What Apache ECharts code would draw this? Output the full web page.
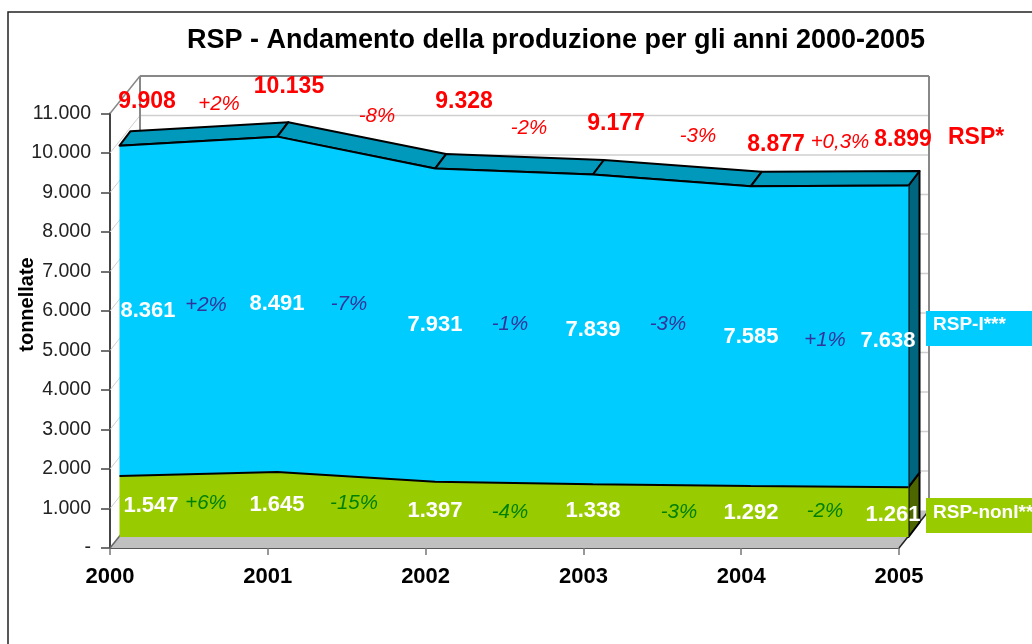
<!DOCTYPE html>
<html>
<head>
<meta charset="utf-8">
<style>
  html, body { margin: 0; padding: 0; background: #fff; }
  #main { width: 1032px; height: 644px; }
</style>
<script src="https://cdn.jsdelivr.net/npm/echarts@6/dist/echarts.min.js"></script>
</head>
<body>
<div id="main"></div>
<script>
const years = ['2000', '2001', '2002', '2003', '2004', '2005'];
const rspTotal = [9908, 10135, 9328, 9177, 8877, 8899];
const rspI = [8361, 8491, 7931, 7839, 7585, 7638];
const rspNonI = [1547, 1645, 1397, 1338, 1292, 1261];
const yTicks = [0, 1000, 2000, 3000, 4000, 5000, 6000, 7000, 8000, 9000, 10000, 11000];

const pctTotal = ['+2%', '-8%', '-2%', '-3%', '+0,3%'];
const pctI = ['+2%', '-7%', '-1%', '-3%', '+1%'];
const pctNonI = ['+6%', '-15%', '-4%', '-3%', '-2%'];

// hand placed text, as in the original sheet
const totalPos = [[147, 100], [289, 85], [464, 100], [616, 122], [776, 143], [903, 138]];
const iPos = [[148, 309], [277, 302], [435, 323], [593, 328], [751, 335], [888, 339]];
const nonIPos = [[151, 504], [277, 503], [435, 509], [593, 509], [751, 511], [893, 513]];
const pctTotalPos = [[219, 103], [377, 115], [529, 127], [698, 135], [840, 141]];
const pctIPos = [[206, 304], [349, 303], [510, 323], [668, 323], [825, 339]];
const pctNonIPos = [[206, 502], [354, 502], [510, 511], [679, 511], [825, 510]];

const FONT = '"Liberation Sans", Arial, sans-serif';
const wallDepth = [30, -37.5];
const ribbonDepth = [11, -14.5];

const fmt = v => v === 0 ? '-' : String(v).replace(/\B(?=(\d{3})+$)/g, '.');

function textEl(text, pos, size, color, bold, italic, align) {
    return {
        type: 'text',
        x: pos[0],
        y: pos[1] + 1.5,
        z: 100,
        style: {
            text: text,
            fill: color,
            font: (italic ? 'italic ' : '') + (bold ? 'bold ' : '') + size + 'px ' + FONT,
            textAlign: align || 'center',
            textVerticalAlign: 'middle'
        }
    };
}

// back wall, left wall and floor
function renderWalls(params, api) {
    const tick = api.value(0);
    const first = api.coord([0, tick]);
    const last = api.coord([years.length - 1, tick]);
    const bx = first[0] + wallDepth[0];
    const by = first[1] + wallDepth[1];
    const ex = last[0] + wallDepth[0];
    const top = tick === yTicks[yTicks.length - 1];
    const children = [];
    if (tick === 0) {
        children.push({
            type: 'polygon',
            shape: { points: [first, last, [ex, by], [bx, by]] },
            style: { fill: '#c0c0c0' }
        });
        children.push({
            type: 'line',
            shape: { x1: last[0], y1: last[1], x2: ex, y2: by },
            style: { stroke: '#222', lineWidth: 1.5 }
        });
    }
    if (top) {
        const base = api.coord([0, 0]);
        [bx, ex].forEach(x => children.push({
            type: 'line',
            shape: { x1: x, y1: by, x2: x, y2: base[1] + wallDepth[1] },
            style: { stroke: '#888', lineWidth: 2 }
        }));
    }
    const color = top ? '#888' : '#cfcfcf';
    const width = top ? 2 : 1.5;
    if (tick !== 0) {
        children.push({
            type: 'line',
            shape: { x1: bx, y1: by, x2: ex, y2: by },
            style: { stroke: color, lineWidth: width }
        });
    }
    children.push({
        type: 'line',
        shape: { x1: first[0], y1: first[1], x2: bx, y2: by },
        style: { stroke: tick === 0 ? '#666' : color, lineWidth: top || tick === 0 ? 1.5 : 1 }
    });
    return { type: 'group', children: children };
}

// top ribbon of the blue area
function renderRibbon(params, api) {
    const i = api.value(0);
    if (i >= years.length - 1) return;
    const a = api.coord([i, rspTotal[i]]);
    const b = api.coord([i + 1, rspTotal[i + 1]]);
    return {
        type: 'polygon',
        shape: {
            points: [a, b,
                [b[0] + ribbonDepth[0], b[1] + ribbonDepth[1]],
                [a[0] + ribbonDepth[0], a[1] + ribbonDepth[1]]]
        },
        style: { fill: '#0099bb', stroke: '#000', lineWidth: 2, lineJoin: 'round' }
    };
}

// right hand side of both areas
function renderSide(params, api) {
    const last = years.length - 1;
    const low = api.coord([last, api.value(0)]);
    const high = api.coord([last, api.value(1)]);
    return {
        type: 'polygon',
        shape: {
            points: [low, high,
                [high[0] + ribbonDepth[0], high[1] + ribbonDepth[1]],
                [low[0] + ribbonDepth[0], low[1] + ribbonDepth[1]]]
        },
        style: { fill: api.value(2) === 0 ? '#4d6600' : '#006680', stroke: '#000', lineWidth: 2, lineJoin: 'round' }
    };
}

const graphics = [
    {
        type: 'rect', z: 0,
        shape: { x: 8, y: 12, width: 1100, height: 700 },
        style: { fill: 'none', stroke: '#222', lineWidth: 1.5 }
    },
    textEl('RSP - Andamento della produzione per gli anni 2000-2005', [556, 39], 27, '#000', true),
    Object.assign(textEl('tonnellate', [27, 303], 20, '#000', true), { rotation: Math.PI / 2 }),
    {
        type: 'rect', z: 90,
        shape: { x: 926, y: 311, width: 106, height: 35 },
        style: { fill: '#00ccff' }
    },
    {
        type: 'rect', z: 90,
        shape: { x: 926, y: 498, width: 106, height: 35 },
        style: { fill: '#99cc00' }
    },
    textEl('RSP*', [948, 136], 23, '#ff0000', true, false, 'left'),
    textEl('RSP-I***', [933, 323], 19, '#fff', true, false, 'left'),
    textEl('RSP-nonI**', [933, 511], 19, '#fff', true, false, 'left')
];
rspTotal.forEach((v, i) => graphics.push(textEl(fmt(v), totalPos[i], 23, '#ff0000', true)));
rspI.forEach((v, i) => graphics.push(textEl(fmt(v), iPos[i], 22, '#fff', true)));
rspNonI.forEach((v, i) => graphics.push(textEl(fmt(v), nonIPos[i], 22, '#fff', true)));
pctTotal.forEach((t, i) => graphics.push(textEl(t, pctTotalPos[i], 20.5, '#ff0000', false, true)));
pctI.forEach((t, i) => graphics.push(textEl(t, pctIPos[i], 20.5, '#333399', false, true)));
pctNonI.forEach((t, i) => graphics.push(textEl(t, pctNonIPos[i], 20.5, '#008000', false, true)));

const chart = echarts.init(document.getElementById('main'), null, { renderer: 'canvas' });

chart.setOption({
    animation: false,
    backgroundColor: '#fff',
    textStyle: { fontFamily: FONT },
    grid: [
        { left: 110, right: 133, top: 113.5, bottom: 96 },
        { left: 119.5, right: 123.5, top: 102.5, bottom: 107 }
    ],
    xAxis: [
        {
            type: 'category',
            gridIndex: 0,
            data: years,
            boundaryGap: false,
            axisLine: { lineStyle: { color: '#222', width: 1.5 } },
            axisTick: { length: 7, lineStyle: { color: '#777', width: 1.5 } },
            axisLabel: { fontSize: 22, fontWeight: 'bold', color: '#000', margin: 18, interval: 0 },
            splitLine: { show: false }
        },
        { type: 'category', gridIndex: 1, data: years, boundaryGap: false, show: false }
    ],
    yAxis: [
        {
            type: 'value',
            gridIndex: 0,
            min: 0,
            max: 11000,
            interval: 1000,
            axisLine: { show: true, lineStyle: { color: '#444', width: 2 } },
            axisTick: { show: true, length: 9, lineStyle: { color: '#444', width: 1.5 } },
            axisLabel: { fontSize: 19.5, color: '#222', margin: 19, formatter: fmt },
            splitLine: { show: false }
        },
        { type: 'value', gridIndex: 1, min: 0, max: 11000, interval: 1000, show: false }
    ],
    series: [
        {
            type: 'custom',
            name: 'walls',
            xAxisIndex: 0,
            yAxisIndex: 0,
            z: 1,
            clip: false,
            silent: true,
            renderItem: renderWalls,
            encode: { y: 0 },
            data: yTicks.map(t => [t])
        },
        {
            type: 'custom',
            name: 'side',
            xAxisIndex: 1,
            yAxisIndex: 1,
            z: 3,
            clip: false,
            silent: true,
            renderItem: renderSide,
            data: [
                [0, rspNonI[5], 0],
                [rspNonI[5], rspTotal[5], 1]
            ]
        },
        {
            type: 'custom',
            name: 'ribbon',
            xAxisIndex: 1,
            yAxisIndex: 1,
            z: 3,
            clip: false,
            silent: true,
            renderItem: renderRibbon,
            data: years.map((y, i) => [i])
        },
        {
            type: 'line',
            name: 'RSP-nonI',
            xAxisIndex: 1,
            yAxisIndex: 1,
            stack: 'rsp',
            z: 4,
            clip: false,
            showSymbol: false,
            lineStyle: { color: '#000', width: 2 },
            itemStyle: { color: '#99cc00' },
            areaStyle: { color: '#99cc00', opacity: 1 },
            data: rspNonI
        },
        {
            type: 'line',
            name: 'RSP-I',
            xAxisIndex: 1,
            yAxisIndex: 1,
            stack: 'rsp',
            z: 4,
            clip: false,
            showSymbol: false,
            lineStyle: { color: '#000', width: 2 },
            itemStyle: { color: '#00ccff' },
            areaStyle: { color: '#00ccff', opacity: 1 },
            data: rspI
        }
    ],
    graphic: graphics
});
</script>
</body>
</html>
